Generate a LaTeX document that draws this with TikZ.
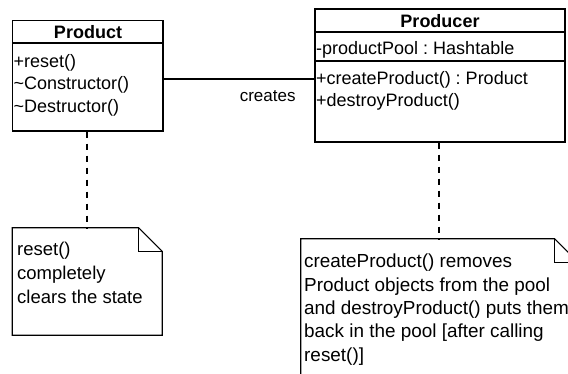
\documentclass[tikz,border=0pt]{standalone}
\usepackage{fontspec}
\setmainfont{Liberation Sans}
\usepackage{tikz}
\usetikzlibrary{positioning, calc}
\frenchspacing
\definecolor{umlink}{RGB}{0,0,0}
\definecolor{umlpaper}{RGB}{255,255,255}
\newcommand{\umlfont}{\fontsize{18}{22}\selectfont}
\newcommand{\notefont}{\fontsize{18.9}{23.3}\selectfont}
\tikzset{
  classbox/.style={rectangle, draw=umlink, fill=umlpaper, line width=1.2pt, inner sep=0pt},
  notebox/.style={rectangle, inner sep=0pt},
  classname/.style={anchor=base, inner sep=0pt, font=\umlfont\bfseries},
  member/.style={anchor=base west, inner sep=0pt, font=\umlfont},
  notetext/.style={anchor=base west, inner sep=0pt, align=left, font=\notefont},
  divider/.style={line width=1.2pt, color=umlink},
  assoc/.style={line width=1.2pt, color=umlink},
  anchorline/.style={line width=1.2pt, color=umlink, dash pattern=on 6pt off 6pt}
}

\begin{document}
\begin{tikzpicture}[x=1pt, y=-1pt]
  \useasboundingbox (0,0) rectangle (568,373);
  \clip (0,0) rectangle (568,373);

  % Classes
  \node[classbox, minimum width=150.5pt, minimum height=110.5pt] (product) at (87.75,75.75) {};
  \node[classbox, minimum width=250pt, minimum height=133pt] (producer) at (440,75.5) {};

  % Product compartments
  \draw[divider] (product.west |- 0,43) -- (product.east |- 0,43);
  \node[classname] (productname) at (88,38.5) {Product};
  \node[member] (reset) at (13.5,67) {+reset()};
  \node[member] (ctor) at (13.5,89.5) {\textasciitilde Constructor()};
  \node[member] (dtor) at (13.5,112) {\textasciitilde Destructor()};

  % Producer compartments
  \draw[divider] (producer.west |- 0,32) -- (producer.east |- 0,32);
  \draw[divider] (producer.west |- 0,61) -- (producer.east |- 0,61);
  \node[classname] (producername) at (440,27.5) {Producer};
  \node[member] (pool) at (316,54.5) {-productPool : Hashtable};
  \node[member] (create) at (316,84.5) {+createProduct() : Product};
  \node[member] (destroy) at (316,106.5) {+destroyProduct()};

  % Notes
  \node[notebox, minimum width=149.5pt, minimum height=107pt] (resetnote) at (87.25,281.5) {};
  \node[notebox, minimum width=277pt, minimum height=152pt] (poolnote) at (439.5,315) {};
  \foreach \n in {resetnote, poolnote} {
    \draw[line width=1.2pt, color=umlink, fill=umlpaper]
      (\n.south west) -- (\n.north west) -- ([xshift=-23.5pt]\n.north east)
      -- ([yshift=-23.5pt]\n.north east) -- (\n.south east) -- cycle;
    \draw[line width=1.2pt, color=umlink]
      ([xshift=-23.5pt]\n.north east) -- ([xshift=-23.5pt, yshift=-23.5pt]\n.north east)
      -- ([yshift=-23.5pt]\n.north east);
  }
  \node[notetext, font=\fontsize{18.5}{24}\selectfont] (resettext) at (17,303) {reset()\\completely\\clears the state};
  \node[notetext] (pooltext) at (304,361) {createProduct() removes\\Product objects from the pool\\and destroyProduct() puts them\\back in the pool [after calling\\reset()]};

  % Connections
  \draw[assoc] (product.east |- 0,79) -- (producer.west |- 0,79)
    node[pos=0.69, yshift=-17pt, font=\fontsize{17}{20}\selectfont, inner sep=0pt] (creates) {creates};
  \draw[anchorline] (product.south -| 87,0) -- (resetnote.north -| 87,0);
  \draw[anchorline] (producer.south -| 439,0) -- (poolnote.north -| 439,0);
\end{tikzpicture}
\end{document}
